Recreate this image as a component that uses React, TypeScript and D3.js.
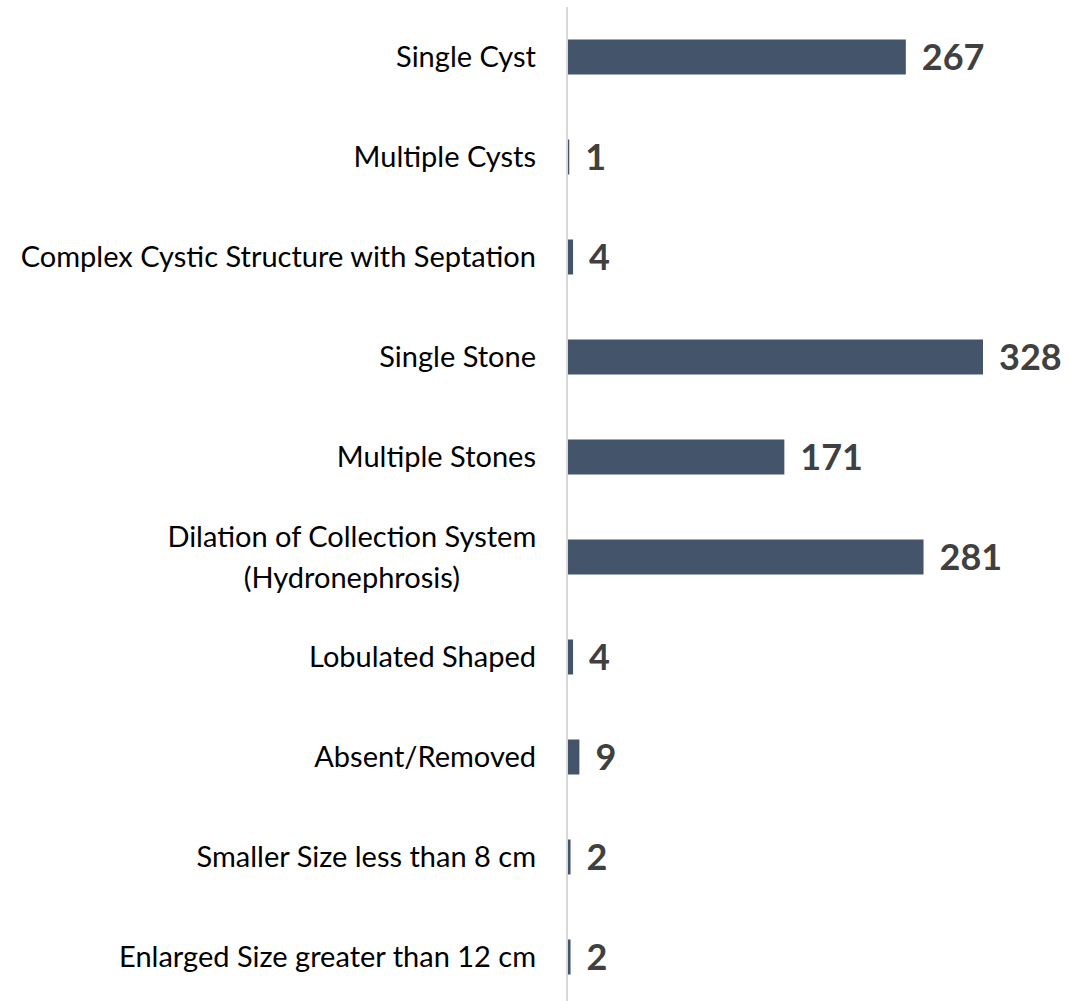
import React from "react";
import * as d3 from "d3";

const categories: string[][] = [
  ["Single Cyst"],
  ["Multiple Cysts"],
  ["Complex Cystic Structure with Septation"],
  ["Single Stone"],
  ["Multiple Stones"],
  ["Dilation of Collection System", "(Hydronephrosis)"],
  ["Lobulated Shaped"],
  ["Absent/Removed"],
  ["Smaller Size less than 8 cm"],
  ["Enlarged Size greater than 12 cm"],
];
const values: number[] = [267, 1, 4, 328, 171, 281, 4, 9, 2, 2];

const W = 1068;
const H = 1001;
const FONT = "Lato, 'Open Sans', sans-serif";

function approxWidth(s: string, size: number) {
  return s.length * size * 0.438;
}

export default function App() {
  const keys = categories.map((c, i) => String(i));
  const y = d3.scaleBand<string>().domain(keys).range([7, 1007]).paddingInner(0.65).paddingOuter(0.325);
  const x = d3.scaleLinear().domain([0, 328]).range([568, 983]);
  const labelRight = 536;
  const fs = 29;
  return (
    <svg width={W} height={H} style={{ position: "absolute", left: 0, top: 0, background: "#fff" }}>
      <line x1={567} x2={567} y1={7} y2={H} stroke="#d9d9d9" strokeWidth={2} />
      {values.map((v, i) => {
        const yy = y(String(i))!;
        const bw = y.bandwidth();
        const cy = yy + bw / 2;
        const lines = categories[i];
        const maxW = Math.max(...lines.map((l) => approxWidth(l, fs)));
        return (
          <g key={i}>
            <rect x={x(0)} y={yy} width={Math.max(0, x(v) - x(0))} height={bw} fill="#44546a" />
            <text
              x={x(v) + 16}
              y={cy}
              dy="0.36em"
              fontFamily={FONT}
              fontWeight="bold"
              fontSize={36}
              fill="#404040"
            >
              {v}
            </text>
            {lines.length === 1 ? (
              <text x={labelRight} y={cy} dy="0.35em" textAnchor="end" fontFamily={FONT} fontSize={fs} fill="#000">
                {lines[0]}
              </text>
            ) : (
              <text x={labelRight - maxW / 2} y={cy} textAnchor="middle" fontFamily={FONT} fontSize={fs} fill="#000">
                {lines.map((l, k) => (
                  <tspan key={k} x={labelRight - maxW / 2} y={cy + (k - (lines.length - 1) / 2) * 41} dy="0.35em">
                    {l}
                  </tspan>
                ))}
              </text>
            )}
          </g>
        );
      })}
    </svg>
  );
}
